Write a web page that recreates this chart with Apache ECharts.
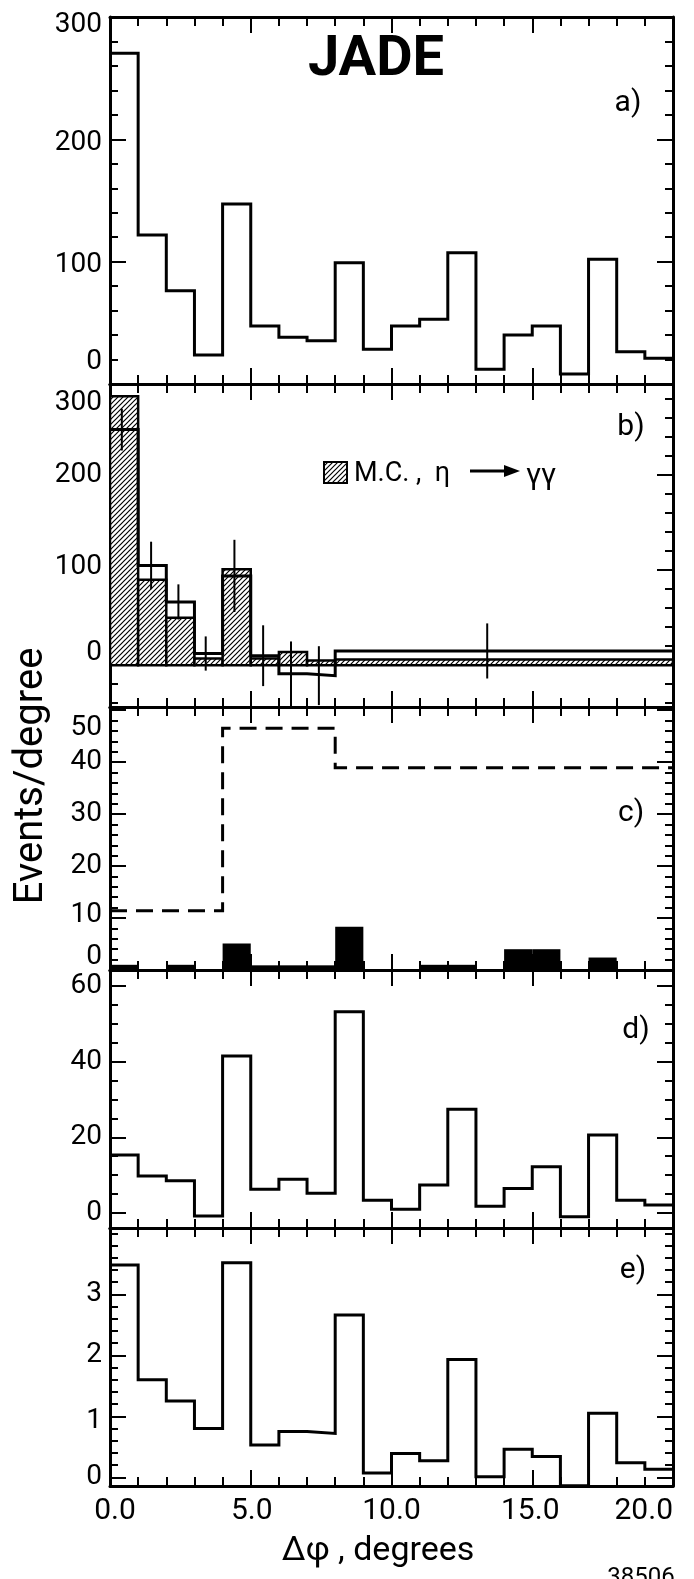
<!DOCTYPE html>
<html><head><meta charset="utf-8">
<script src="https://cdn.jsdelivr.net/npm/echarts@6/dist/echarts.min.js"></script>
<style>html,body{margin:0;padding:0;background:#fff}#c{width:694px;height:1579px}</style>
</head><body><div id="c"></div>
<script>
// ---------------- data ----------------
const binEdges = [0,1,2,3,4,5,6,7,8,9,10,11,12,13,14,15,16,17,18,19,20];
// a) events/degree
const aEvents = [270.3,121.8,76.3,23.7,147.1,47.4,38.2,35.4,99.2,28.4,47.4,52.9,107.3,12.0,40.1,47.4,8.2,101.9,26.4,21.0];
// b) data (open histogram with error bars) and M.C. eta -> gamma gamma (hatched)
const bEdges = [0,1,2,3,4,5,6,7,8,20];
const bData  = [248,105,66.6,12.3,94,10,-9,-11,15];
const bErr   = [22,25,18.5,18,38,32,34,31,29];
const bErrX  = [0.42,1.46,2.43,3.4,4.42,5.44,6.43,7.42,13.4];
const bMC    = [283,90,50,7,101,7,14,5,6];
// c) filled bars and dashed histogram
const cBars  = [1,0,1,0,5.1,0.9,0.9,0.9,8.3,0,0,1,1,0,4.0,4.0,0,2.4,0,0];
const cDashEdges = [0,4,8,20];
const cDash  = [11.4,46.5,38.9];
// d), e)
const dEvents = [15.3,9.8,8.5,-0.8,41.5,6.3,8.9,5.2,53.2,3.4,1.0,7.4,27.4,1.8,6.5,12.2,-1.0,20.6,3.4,2.1];
const eEvents = [3.48,1.6,1.25,0.80,3.52,0.53,0.75,0.72,2.66,0.07,0.39,0.27,1.93,0.01,0.46,0.34,-0.14,1.05,0.24,0.13];
// tick labels
const xTickVals = [0,5,10,15,20];
const xTickText = ['0.0','5.0','10.0','15.0','20.0'];
const aTickVals = [0,100,200,300], aTickText = ['0','100','200','300'];
const bTickVals = [0,100,200,300], bTickText = ['0','100','200','300'];
const cTickVals = [0,10,20,30,40,50], cTickText = ['0','10','20','30','40','50'];
const dTickVals = [0,20,40,60], dTickText = ['0','20','40','60'];
const eTickVals = [0,1,2,3], eTickText = ['0','1','2','3'];

// ---------------- styling / layout ----------------
const FONT = 'Roboto, "DejaVu Sans", sans-serif';
function seq(a, b, s) { const r = []; for (let v = a; v <= b + 1e-9; v += s) r.push(+v.toFixed(6)); return r; }

const gridBox = [
  {top: 17, height: 367},
  {top: 384, height: 323},
  {top: 707, height: 263},
  {top: 970, height: 258},
  {top: 1228, height: 258}
];
const yCfg = [
  {min: 0, max: 300, minor: seq(20, 280, 20), major: [100, 200], vals: aTickVals, texts: aTickText, nudge: [22, -3, -4, -8]},
  {min: -44, max: 296, minor: seq(-40, 280, 20), major: [0, 100, 200], vals: bTickVals, texts: bTickText, nudge: [12, 3, 0, -19]},
  {min: 0, max: 50.6, minor: seq(2, 50, 2), major: [10, 20, 30, 40, 50], vals: cTickVals, texts: cTickText, nudge: [13, 3, 0, 0, 0, -18]},
  {min: -3.96, max: 64.2, minor: seq(5, 60, 5), major: [0, 20, 40, 60], vals: dTickVals, texts: dTickText, nudge: [0, 0, 0, 0]},
  {min: -0.143, max: 4.088, minor: seq(0.2, 4.0, 0.2), major: [0, 1, 2, 3], vals: eTickVals, texts: eTickText, nudge: [0, -5, 0, 0]}
];
const xMajor = [5, 10, 15];
const xMinor = seq(1, 19, 1);
const xNudge = [5, 1, 0, -2, 0];

function labelConf(vals, texts, nudges, min, max, size, horiz, margin) {
  const placed = vals.map(v => Math.min(Math.max(v, min), max));
  const rich = {};
  nudges.forEach((n, i) => {
    let pad;
    if (horiz) pad = n > 0 ? [0, 0, 0, 2 * n] : [0, -2 * n, 0, 0];
    else pad = n > 0 ? [0, 0, 2 * n, 0] : [-2 * n, 0, 0, 0];
    rich['k' + i] = {fontFamily: FONT, fontSize: size, color: '#000', padding: pad};
  });
  return {
    show: true, customValues: placed, margin: margin, showMinLabel: true, showMaxLabel: true,
    fontFamily: FONT, fontSize: size, color: '#000', rich: rich,
    formatter: v => { const i = placed.findIndex(p => Math.abs(p - v) < 1e-6); return i < 0 ? '' : '{k' + i + '|' + texts[i] + '}'; }
  };
}
const frameLine = {show: true, onZero: false, lineStyle: {color: '#000', width: 3}};
const noLine = {show: false, onZero: false};
const tick = (vals, len) => ({show: true, inside: true, length: len, customValues: vals, lineStyle: {color: '#000', width: 2}});

const grids = [], xAxes = [], yAxes = [];
gridBox.forEach((g, gi) => {
  grids.push({left: 110, right: 21, top: g.top, height: g.height, containLabel: false});
  const xc = {type: 'value', gridIndex: gi, min: 0, max: 20, splitLine: {show: false}, axisLabel: {show: false}};
  let xl = {show: false};
  if (gi === 4) { xl = labelConf(xTickVals, xTickText, xNudge, 0, 20, 30, true, 10); xl.alignMaxLabel = 'right'; }
  xAxes.push(
    Object.assign({}, xc, {position: 'bottom', axisLine: frameLine, axisTick: tick(xMajor, 16), axisLabel: xl}),
    Object.assign({}, xc, {position: 'bottom', axisLine: noLine, axisTick: tick(xMinor, 9)}),
    Object.assign({}, xc, {position: 'top', axisLine: frameLine, axisTick: tick(xMajor, 16)}),
    Object.assign({}, xc, {position: 'top', axisLine: noLine, axisTick: tick(xMinor, 9)})
  );
  const c = yCfg[gi];
  const yc = {type: 'value', gridIndex: gi, min: c.min, max: c.max, splitLine: {show: false}, axisLabel: {show: false}};
  yAxes.push(
    Object.assign({}, yc, {position: 'left', axisLine: frameLine, axisTick: tick(c.major, 16),
      axisLabel: labelConf(c.vals, c.texts, c.nudge, c.min, c.max, 28, false, 8)}),
    Object.assign({}, yc, {position: 'left', axisLine: noLine, axisTick: tick(c.minor, 8)}),
    Object.assign({}, yc, {position: 'right', axisLine: frameLine, axisTick: tick(c.major, 16)}),
    Object.assign({}, yc, {position: 'right', axisLine: noLine, axisTick: tick(c.minor, 8)})
  );
});

function makeHatch() {
  const s = 5;
  const cv = document.createElement('canvas'); cv.width = s; cv.height = s;
  const ctx = cv.getContext('2d');
  ctx.fillStyle = '#fff'; ctx.fillRect(0, 0, s, s);
  ctx.strokeStyle = '#000'; ctx.lineWidth = 1.2;
  ctx.beginPath();
  ctx.moveTo(-1, s + 1); ctx.lineTo(s + 1, -1);
  ctx.moveTo(-1, 1); ctx.lineTo(1, -1);
  ctx.moveTo(s - 1, s + 1); ctx.lineTo(s + 1, s - 1);
  ctx.stroke();
  return cv;
}
const hatch = {image: makeHatch(), repeat: 'repeat'};

function stepLine(gi, edges, vals, style) {
  return {
    type: 'line', xAxisIndex: 4 * gi, yAxisIndex: 4 * gi, step: 'end', symbol: 'none', clip: true, z: 4,
    data: edges.map((e, i) => [e, vals[Math.min(i, vals.length - 1)]]),
    lineStyle: Object.assign({color: '#000', width: 3, join: 'miter'}, style || {})
  };
}
function rectSeries(gi, edges, vals, styleFn, z) {
  return {
    type: 'custom', xAxisIndex: 4 * gi, yAxisIndex: 4 * gi, clip: true, z: z,
    data: vals.map((v, i) => [edges[i], edges[i + 1], v]),
    encode: {x: [0, 1], y: 2},
    renderItem: (params, api) => {
      const a = api.coord([api.value(0), 0]);
      const b = api.coord([api.value(1), api.value(2)]);
      const h = Math.abs(a[1] - b[1]);
      return {type: 'rect', shape: {x: a[0], y: Math.min(a[1], b[1]), width: b[0] - a[0], height: h}, style: styleFn(api.value(2))};
    }
  };
}

const series = [
  stepLine(0, binEdges, aEvents),
  rectSeries(1, bEdges, bMC, () => ({fill: hatch, stroke: '#000', lineWidth: 2.5}), 2),
  stepLine(1, bEdges, bData),
  {
    type: 'custom', xAxisIndex: 4, yAxisIndex: 4, clip: true, z: 5,
    data: bErrX.map((x, i) => [x, bData[i] - bErr[i], bData[i] + bErr[i]]),
    encode: {x: 0, y: [1, 2]},
    renderItem: (params, api) => {
      const a = api.coord([api.value(0), api.value(1)]);
      const b = api.coord([api.value(0), api.value(2)]);
      return {type: 'line', shape: {x1: a[0], y1: a[1], x2: b[0], y2: b[1]}, style: {stroke: '#000', lineWidth: 2}};
    }
  },
  rectSeries(2, binEdges, cBars, v => ({fill: v > 0 ? '#000' : 'none', stroke: 'none'}), 3),
  stepLine(2, cDashEdges, cDash, {type: [17, 9], width: 3, cap: 'butt'}),
  stepLine(3, binEdges, dEvents),
  stepLine(4, binEdges, eEvents)
];

function txt(x, y, text, size, align, vAlign, extra) {
  return Object.assign({type: 'text', x: x, y: y, z: 10, style: {
    text: text, fontSize: size, fontFamily: FONT, fill: '#000',
    align: align || 'center', textAlign: align || 'center',
    verticalAlign: vAlign || 'middle', textVerticalAlign: vAlign || 'middle'
  }}, extra || {});
}
const titleEl = txt(376, 61, 'JADE', 56);
titleEl.style.fontWeight = 'bold';

const graphics = [
  titleEl,
  txt(628, 103, 'a)', 30), txt(631, 427, 'b)', 30), txt(631, 813, 'c)', 30),
  txt(636, 1030, 'd)', 30), txt(633, 1270, 'e)', 30),
  {type: 'rect', z: 10, shape: {x: 324, y: 462, width: 23, height: 21}, style: {fill: hatch, stroke: '#000', lineWidth: 2}},
  txt(354, 474, 'M.C. ,  \u03b7', 27, 'left'),
  {type: 'line', z: 10, shape: {x1: 470, y1: 471, x2: 508, y2: 471}, style: {stroke: '#000', lineWidth: 3}},
  {type: 'polygon', z: 10, shape: {points: [[504, 465], [520, 471], [504, 477]]}, style: {fill: '#000'}},
  txt(526, 476, '\u03b3\u03b3', 30, 'left'),
  txt(32, 776, 'Events/degree', 40, 'center', 'middle', {rotation: Math.PI / 2}),
  txt(378, 1551, '\u0394\u03c6 , degrees', 34),
  txt(641, 1566, '38506', 24, 'center', 'top')
];

const chart = echarts.init(document.getElementById('c'), null, {renderer: 'canvas'});
chart.setOption({
  animation: false,
  backgroundColor: '#fff',
  grid: grids,
  xAxis: xAxes,
  yAxis: yAxes,
  series: series,
  graphic: {elements: graphics}
});
</script>
</body></html>
